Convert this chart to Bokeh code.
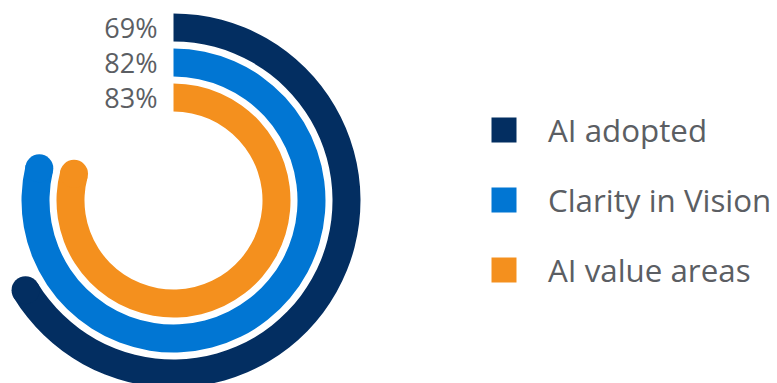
import numpy as np
from bokeh.plotting import figure
from bokeh.models import Range1d
from bokeh.core.properties import value
from bokeh.embed import file_html
from bokeh.resources import INLINE

# ---- data ----
categories = ["AI adopted", "Clarity in Vision", "AI value areas"]
values = [69, 82, 83]
labels = ["69%", "82%", "83%"]
colors = ["#032e61", "#0176d3", "#f4901e"]

# ---- geometry (pixels, y flipped) ----
W, H = 777, 383
cx, cy = 173, -200
outer_r = [187, 152, 117]
band = 28
cap = band / 2
scale = 0.98  # full turn reached at ~102%

p = figure(width=W, height=H, x_range=Range1d(0, W), y_range=Range1d(-H, 0),
           x_axis_type=None, y_axis_type=None, toolbar_location=None,
           output_backend="svg", min_border=0, outline_line_color=None)
p.grid.visible = False
p.background_fill_color = "white"

for i, (v, col) in enumerate(zip(values, colors)):
    ro = outer_r[i]
    ri = ro - band
    rm = (ro + ri) / 2
    theta = v / 100 * 2 * np.pi * scale - cap / rm
    a_end = np.pi / 2 - theta
    p.annular_wedge(x=cx, y=cy, inner_radius=ri, outer_radius=ro,
                    start_angle=a_end, end_angle=np.pi / 2, direction="anticlock",
                    fill_color=col, line_color=None)
    p.circle(x=cx + rm * np.cos(a_end), y=cy + rm * np.sin(a_end), radius=cap,
             fill_color=col, line_color=None)
    p.text(x=[cx - 16], y=[cy + rm], text=[labels[i]], text_align="right",
           text_baseline="middle", text_font=value("Open Sans"),
           text_font_size="27px", text_color="#5b5e63")

# legend
leg_x, leg_y0, leg_dy = 503.5, -129.5, 70
for i, (name, col) in enumerate(zip(categories, colors)):
    y = leg_y0 - i * leg_dy
    p.rect(x=[leg_x], y=[y], width=25, height=25, fill_color=col, line_color=None)
    p.text(x=[leg_x + 44], y=[y], text=[name], text_align="left",
           text_baseline="middle", text_font=value("Open Sans"),
           text_font_size="31.3px", text_color="#5b5e63")

open("out.html", "w").write(file_html(p, INLINE))
